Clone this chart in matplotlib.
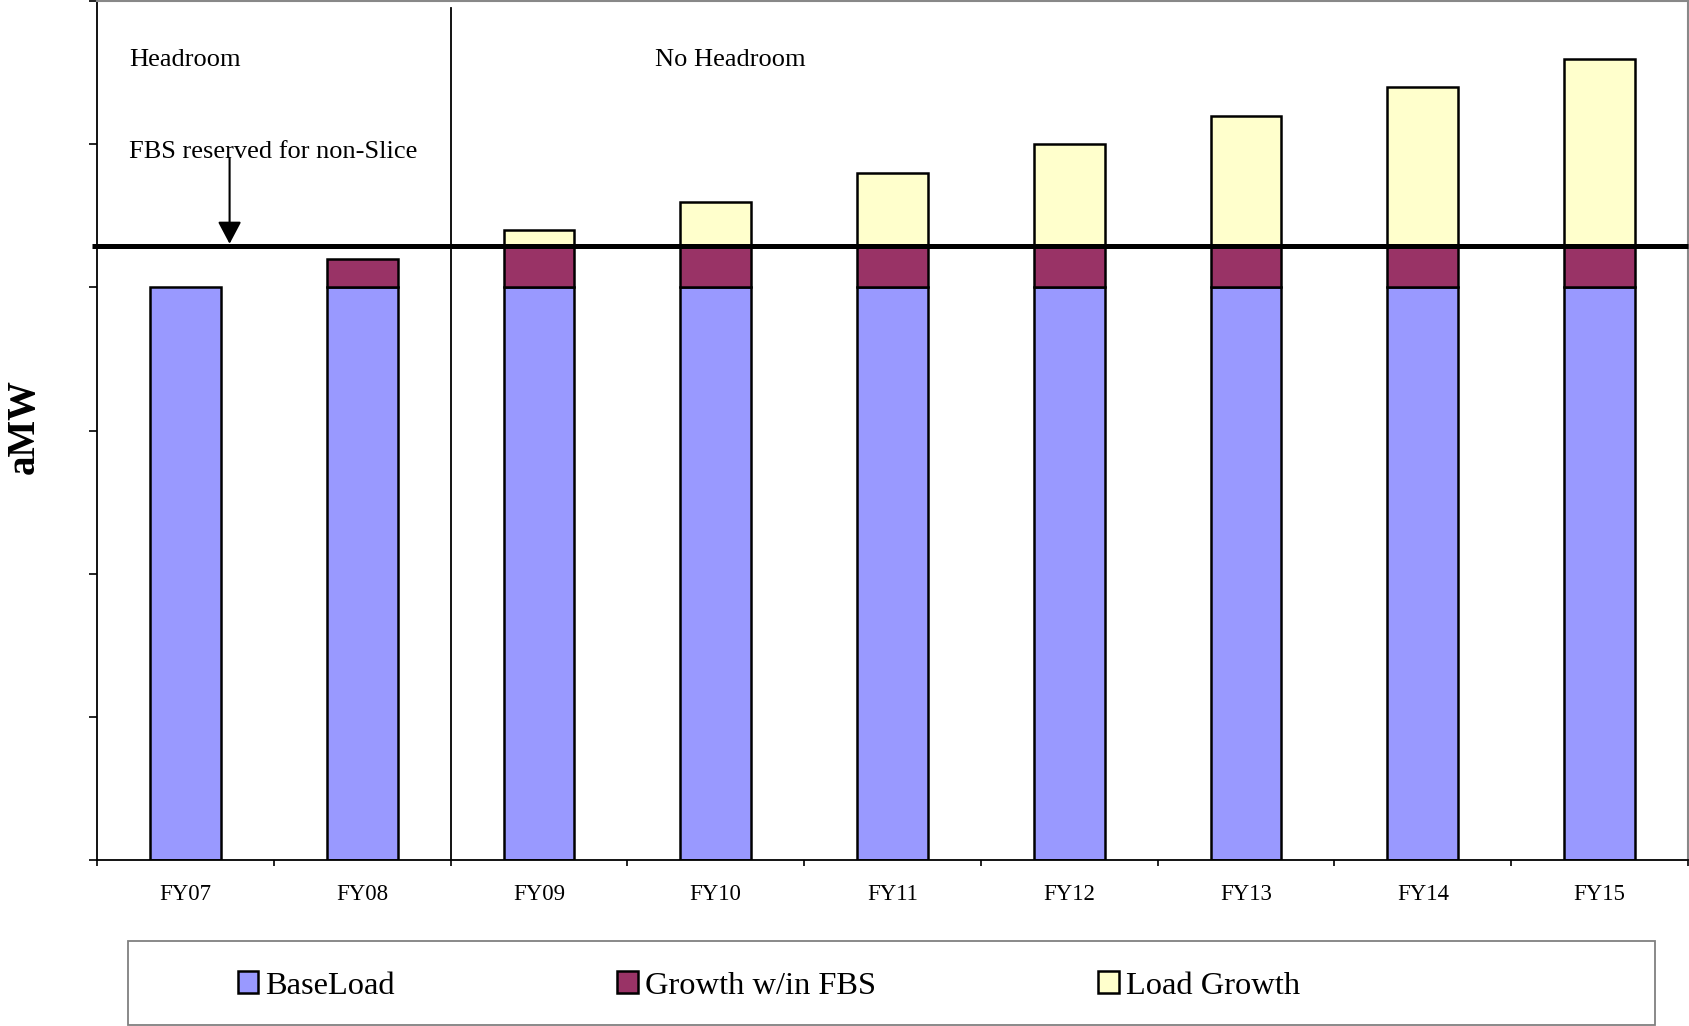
import matplotlib
matplotlib.use("Agg")
import matplotlib.pyplot as plt
from matplotlib.patches import Patch, Rectangle
import numpy as np

# ---- data ----
categories = ["FY07", "FY08", "FY09", "FY10", "FY11", "FY12", "FY13", "FY14", "FY15"]
base_load = [2000, 2000, 2000, 2000, 2000, 2000, 2000, 2000, 2000]
growth_fbs = [0, 98, 145, 145, 145, 145, 145, 145, 145]
load_growth = [0, 0, 54, 152, 253, 355, 453, 554, 652]
fbs_level = 2145
series_names = ["BaseLoad", "Growth w/in FBS", "Load Growth"]
colors = ["#9999FF", "#993366", "#FFFFCC"]

plt.rcParams['font.family'] = ['Liberation Serif', 'DejaVu Serif']

fig = plt.figure(figsize=(16.9, 10.26), dpi=100)
ax = fig.add_axes([97/1690, 1 - 860/1026, (1688 - 97)/1690, (860 - 1)/1026])

x = np.arange(len(categories))
w = 0.40
bl = np.array(base_load, dtype=float)
gf = np.array(growth_fbs, dtype=float)
lg = np.array(load_growth, dtype=float)

ax.bar(x, bl, w, color=colors[0], edgecolor="black", linewidth=1.8, zorder=2)
m = gf > 0
ax.bar(x[m], gf[m], w, bottom=bl[m], color=colors[1], edgecolor="black", linewidth=1.8, zorder=2)
m2 = lg > 0
ax.bar(x[m2], lg[m2], w, bottom=(bl + gf)[m2], color=colors[2], edgecolor="black", linewidth=1.8, zorder=2)

ax.set_xlim(-0.5, len(categories) - 0.5)
ax.set_ylim(0, 3000)

# FBS level heavy line
ax.plot([-0.53, len(categories) - 0.5], [fbs_level, fbs_level], color="black", lw=3.6,
        solid_capstyle="butt", clip_on=False, zorder=4)

# divider between headroom / no headroom
ax.plot([1.5, 1.5], [0, 2976], color="black", lw=1.3, zorder=3)

# annotations
ax.text(-0.319, 2772, "Headroom", fontsize=19, ha="left", va="baseline")
ax.text(-0.319, 2450, "FBS reserved for non-Slice", fontsize=19, ha="left", va="baseline")
ax.text(2.656, 2772, "No Headroom", fontsize=19, ha="left", va="baseline")
ax.annotate("", xy=(0.25, 2152), xytext=(0.25, 2452),
            arrowprops=dict(arrowstyle="-|>,head_length=0.68,head_width=0.36",
                            mutation_scale=20, lw=1.5, color="black",
                            shrinkA=0, shrinkB=0), zorder=5)

# axes styling
for s in ["top", "right"]:
    ax.spines[s].set_color("#888888")
    ax.spines[s].set_linewidth(1.5)
ax.spines["left"].set_color("black")
ax.spines["left"].set_linewidth(1.3)
ax.spines["bottom"].set_color("black")
ax.spines["bottom"].set_linewidth(1.3)

ax.set_yticks(np.arange(0, 3001, 500))
ax.set_yticklabels([])
ax.tick_params(axis="y", direction="out", length=6, width=1.2, color="black")

ax.set_xticks(np.arange(-0.5, len(categories), 1.0))
ax.set_xticklabels([])
ax.tick_params(axis="x", which="major", direction="out", length=4.5, width=1.2, color="black")
ax.set_xticks(x, minor=True)
ax.set_xticklabels(categories, minor=True, fontsize=16.5)
ax.tick_params(axis="x", which="minor", length=0, pad=17)

fig.text(24/1690, 1 - 426/1026, "aMW", rotation=90, fontsize=28, fontweight="bold",
         ha="center", va="center")

# legend
handles = [Patch(facecolor=c, edgecolor="black", linewidth=1.8) for c in colors]
fig.legend(handles, series_names, ncol=3, loc="center", bbox_to_anchor=(0.455, 1 - 986/1026),
           frameon=False, fontsize=23.4, handlelength=0.63, handleheight=0.63,
           handletextpad=0.23, columnspacing=6.83)
fig.patches.append(Rectangle((128/1690, 1/1026), (1655 - 128)/1690, (1025 - 941)/1026,
                             transform=fig.transFigure, fill=False, edgecolor="#808080",
                             linewidth=1.3))

fig.savefig("out.png", dpi=100)
